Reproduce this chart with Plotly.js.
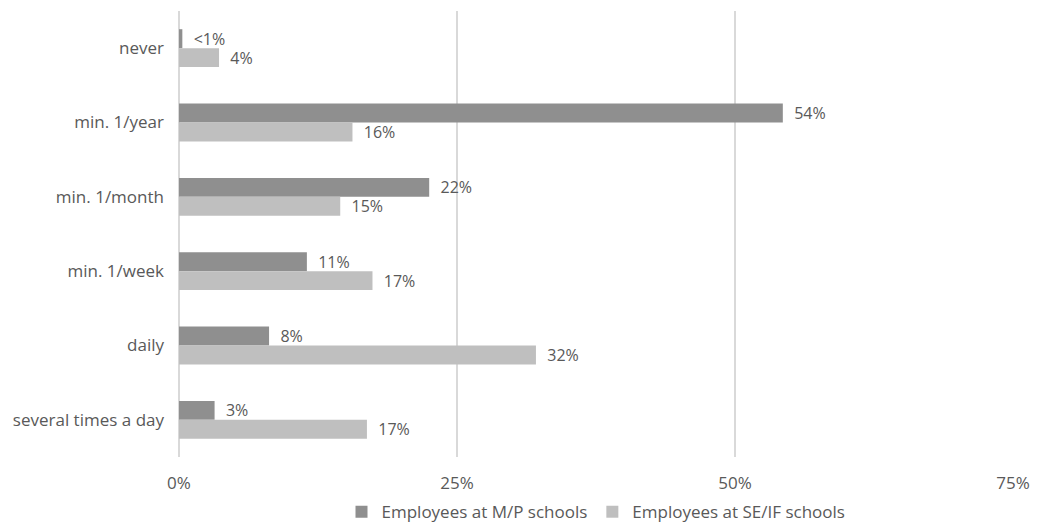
<!DOCTYPE html>
<html>
<head>
<meta charset="utf-8">
<script src="https://cdn.plot.ly/plotly-3.0.1.min.js"></script>
<style>html,body{margin:0;padding:0;background:#fff;}#chart{width:1038px;height:528px;}</style>
</head>
<body>
<div id="chart"></div>
<script>
const categories = ["never", "min. 1/year", "min. 1/month", "min. 1/week", "daily", "several times a day"];
const seriesNames = ["Employees at M/P schools", "Employees at SE/IF schools"];
const mpValues = [0.3, 54.3, 22.5, 11.5, 8.1, 3.2];
const seifValues = [3.6, 15.6, 14.5, 17.4, 32.1, 16.9];
const mpLabels = ["<1%", "54%", "22%", "11%", "8%", "3%"];
const seifLabels = ["4%", "16%", "15%", "17%", "32%", "17%"];
const xTickVals = [0, 25, 50, 75];
const xTickText = ["0%", "25%", "50%", "75%"];

const font = {family: "'Open Sans', sans-serif", size: 17, color: "#595959"};
const labelFont = {family: "'Open Sans', sans-serif", size: 16, color: "#595959"};
const pad = s => s.map(t => "  " + t);

const traces = [
  {type: "bar", orientation: "h", name: seriesNames[0], y: categories, x: mpValues,
   text: pad(mpLabels), textposition: "outside", constraintext: "none", cliponaxis: false,
   textfont: labelFont, marker: {color: "#8f8f8f"}, hoverinfo: "skip"},
  {type: "bar", orientation: "h", name: seriesNames[1], y: categories, x: seifValues,
   text: pad(seifLabels), textposition: "outside", constraintext: "none", cliponaxis: false,
   textfont: labelFont, marker: {color: "#bfbfbf"}, hoverinfo: "skip"}
];

const layout = {
  width: 1038, height: 528,
  margin: {l: 179, r: 25, t: 11, b: 71, autoexpand: false},
  paper_bgcolor: "#fff", plot_bgcolor: "#fff",
  font: font,
  barmode: "group", bargap: 0.49, bargroupgap: 0,
  showlegend: true,
  legend: {orientation: "h", x: 0.5, xref: "paper", xanchor: "center",
           y: 0.03, yref: "container", yanchor: "middle",
           font: font, traceorder: "normal"},
  xaxis: {range: [0, 75], tickvals: xTickVals, ticktext: xTickText,
          showgrid: true, gridcolor: "#d9d9d9", gridwidth: 1.5,
          zeroline: true, zerolinecolor: "#d9d9d9", zerolinewidth: 1.5,
          showline: false, ticks: "", tickfont: font, ticklabelstandoff: 14, fixedrange: true},
  yaxis: {type: "category", autorange: "reversed", showgrid: false, zeroline: false,
          showline: false, ticks: "", tickfont: font, ticklabelstandoff: 14, fixedrange: true}
};

Plotly.newPlot("chart", traces, layout, {displayModeBar: false, staticPlot: true});
</script>
</body>
</html>
